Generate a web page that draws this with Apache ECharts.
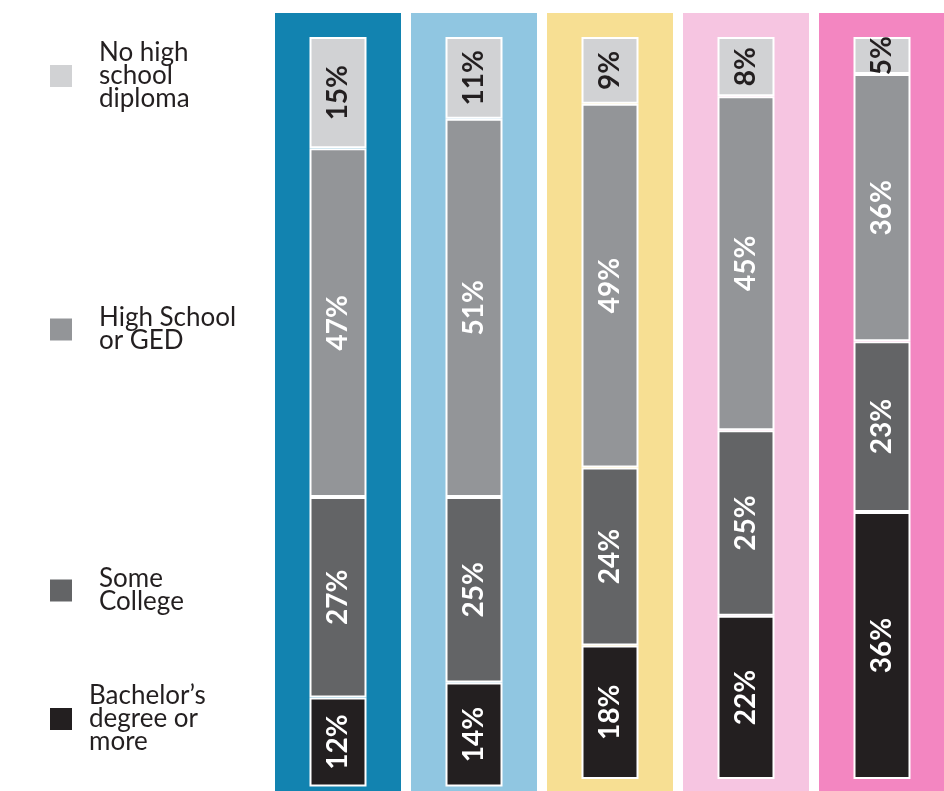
<!DOCTYPE html>
<html lang="en">
<head>
  <meta charset="UTF-8">
  <title>Education levels</title>
  <script src="https://cdn.jsdelivr.net/npm/echarts@6/dist/echarts.min.js"></script>
  <style>
    html, body { margin: 0; padding: 0; background: #fff; }
    #chart { width: 944px; height: 791px; }
  </style>
</head>
<body>
  <div id="chart"></div>
  <script>
    var groups = ['A', 'B', 'C', 'D', 'E']
    var noDiploma = [15, 11, 9, 8, 5]
    var highSchool = [47, 51, 49, 45, 36]
    var someCollege = [27, 25, 24, 25, 23]
    var bachelor = [12, 14, 18, 22, 36]
    var bgColors = ['#1283b0', '#90c6e1', '#f7df93', '#f6c5e1', '#f386c1']

    var names = ['No high school diploma', 'High School or GED', 'Some College', "Bachelor\u2019s degree or more"]
    var legendText = ['No high\nschool\ndiploma', 'High School\nor GED', 'Some\nCollege', 'Bachelor\u2019s\ndegree or\nmore']
    var legendTops = [40, 305, 566, 683]
    var legendPad = [21, 21, 21, 11]
    var colors = ['#d1d2d4', '#939598', '#636466', '#231f20']
    var labelColors = ['#231f20', '#fff', '#fff', '#fff']
    var values = [noDiploma, highSchool, someCollege, bachelor]

    var chart = echarts.init(document.getElementById('chart'))

    var series = values.map(function (data, i) {
      return {
        name: names[i],
        type: 'bar',
        stack: 'edu',
        xAxisIndex: 0,
        yAxisIndex: 0,
        barWidth: 57,
        clip: false,
        z: 5,
        data: data,
        itemStyle: { color: colors[i], borderColor: '#fff', borderWidth: 2 },
        label: {
          show: true,
          position: 'inside',
          rotate: 90,
          formatter: '{c}%',
          color: labelColors[i],
          fontFamily: 'Lato',
          fontWeight: 'bold',
          fontSize: 28
        }
      }
    })

    series.push({
      type: 'bar',
      xAxisIndex: 1,
      yAxisIndex: 1,
      barWidth: 126,
      clip: false,
      silent: true,
      z: 1,
      data: bgColors.map(function (c) {
        return { value: 1, itemStyle: { color: c } }
      })
    })

    var legends = names.map(function (n, i) {
      return {
        data: [n],
        left: 48,
        top: legendTops[i],
        padding: 0,
        orient: 'vertical',
        icon: 'rect',
        itemWidth: 24,
        itemHeight: 24,
        selectedMode: false,
        formatter: function () { return legendText[i] },
        textStyle: {
          fontFamily: 'Lato',
          fontSize: 26,
          lineHeight: 23,
          color: '#231f20',
          padding: [0, 0, 0, legendPad[i]]
        }
      }
    })

    chart.setOption({
      animation: false,
      legend: legends,
      grid: [
        { left: 338, width: 544, top: 37, height: 749.5 },
        { left: 338, width: 544, top: 13, bottom: 0 }
      ],
      xAxis: [
        { type: 'category', gridIndex: 0, data: groups, boundaryGap: false, show: false },
        { type: 'category', gridIndex: 1, data: groups, boundaryGap: false, show: false }
      ],
      yAxis: [
        { type: 'value', gridIndex: 0, min: 0, max: 101, inverse: true, show: false },
        { type: 'value', gridIndex: 1, min: 0, max: 1, show: false }
      ],
      series: series
    })
  </script>
</body>
</html>
